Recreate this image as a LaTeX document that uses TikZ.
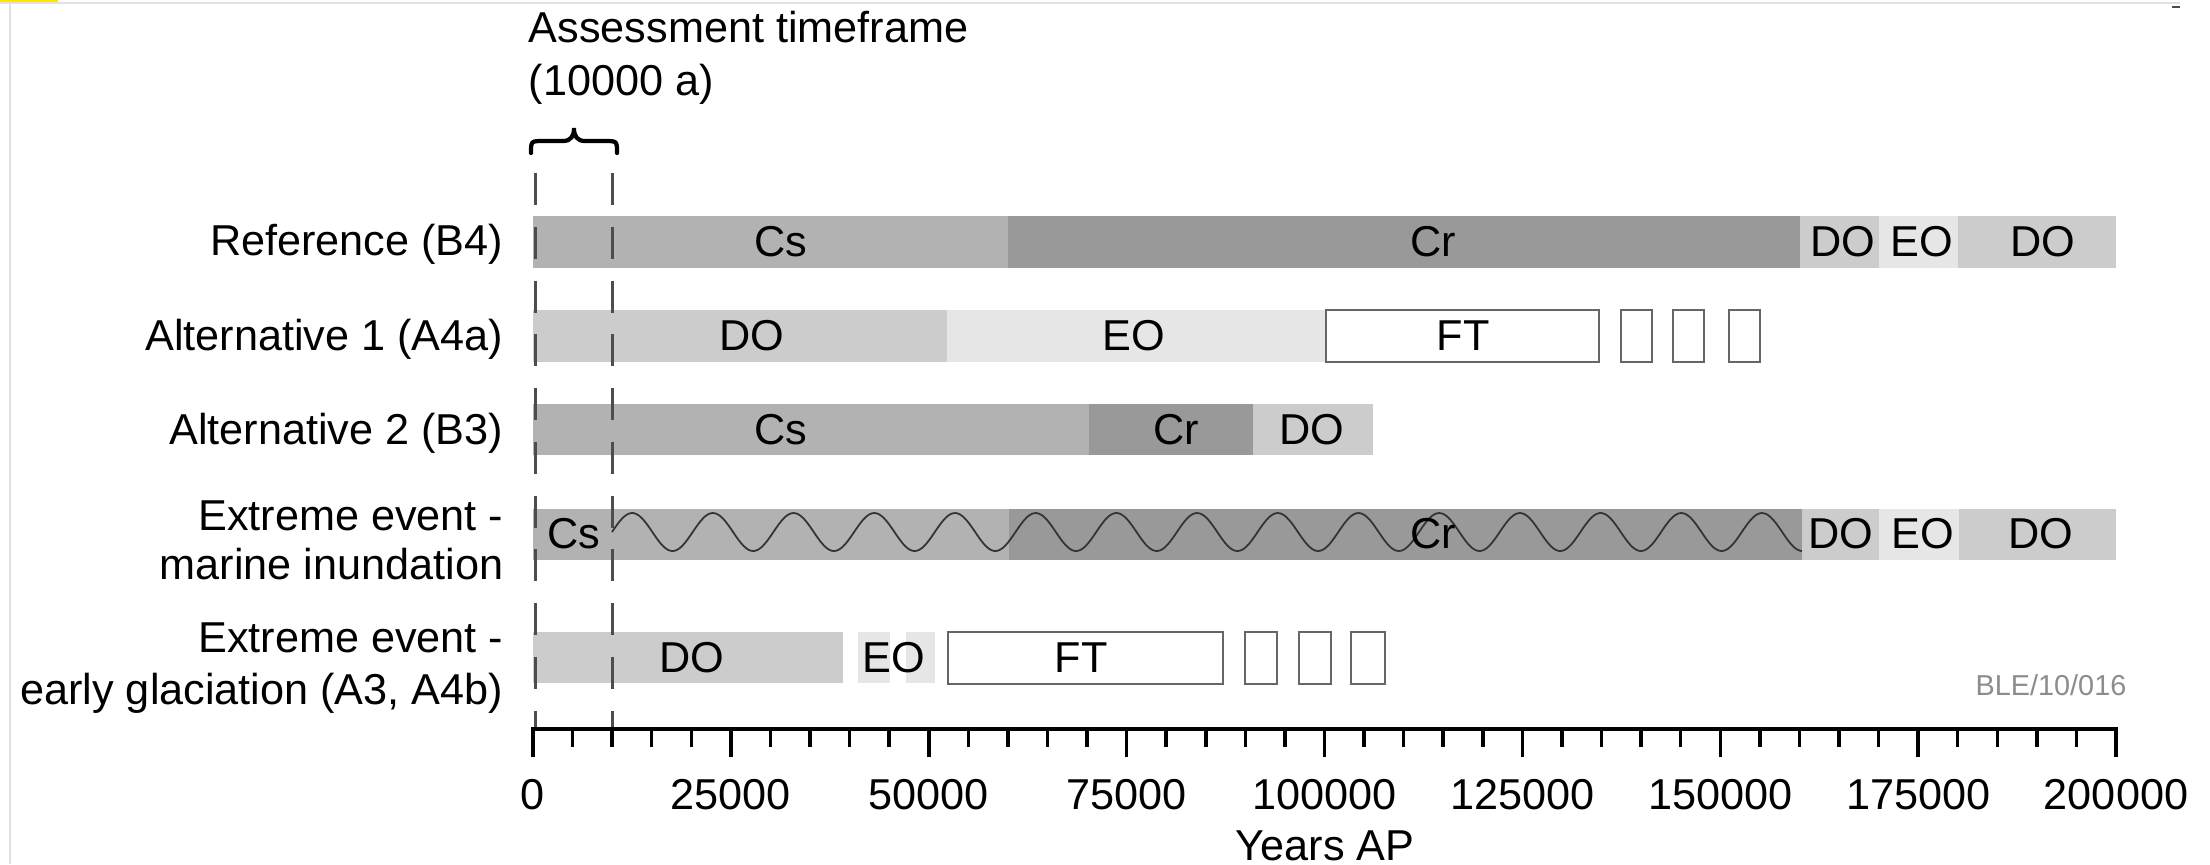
\documentclass[tikz,border=0pt]{standalone}
\usepackage{fontspec}
\setmainfont{Liberation Sans}
\definecolor{csc}{HTML}{B2B2B2}
\definecolor{crc}{HTML}{999999}
\definecolor{doc}{HTML}{CCCCCC}
\definecolor{eoc}{HTML}{E6E6E6}
\definecolor{dashc}{HTML}{4D4D4D}
\definecolor{framec}{HTML}{E0E0E0}
\definecolor{boxc}{HTML}{666666}
\definecolor{codec}{HTML}{8C8C8C}
\definecolor{markyellow}{HTML}{FFE600}
\begin{document}
\begin{tikzpicture}[x=0.1mm,y=-0.1mm,
  txt/.style={font=\fontsize{12.3}{15}\selectfont, inner sep=0pt},
  rowlab/.style={txt, anchor=base east},
  seglab/.style={txt, anchor=base},
  ticklab/.style={txt, anchor=base},
  ftbox/.style={draw=boxc, fill=white, line width=0.6pt},
  vdash/.style={draw=dashc, line width=0.85pt, dash pattern=on 9.1pt off 6.2pt},
  axisline/.style={line width=1.15pt, line cap=rect},
  tickline/.style={line width=1pt},
  wave/.style={draw=black!80, line width=0.5pt},
  bracestyle/.style={line width=1.2pt, line cap=round},
]
\useasboundingbox (0,0) rectangle (2210,864);
% screenshot frame
\fill[markyellow] (0,0) rectangle (58,3);
\draw[framec, line width=0.6pt] (0,3) -- (2180,3);
\draw[framec, line width=0.6pt] (10,3) -- (10,864);
\draw[black!70, line width=0.5pt] (2172,7) -- (2180,7);

% row 1: Reference (B4)
\fill[csc] (533,216) rectangle (1008,268);
\fill[crc] (1008,216) rectangle (1800,268);
\fill[doc] (1800,216) rectangle (1879,268);
\fill[eoc] (1879,216) rectangle (1958,268);
\fill[doc] (1958,216) rectangle (2116,268);

% row 2: Alternative 1 (A4a)
\fill[doc] (533,310) rectangle (947,362);
\fill[eoc] (947,310) rectangle (1326,362);
\draw[ftbox] (1326,310) rectangle (1599,362);
\draw[ftbox] (1621,310) rectangle (1652,362);
\draw[ftbox] (1673,310) rectangle (1704,362);
\draw[ftbox] (1729,310) rectangle (1760,362);

% row 3: Alternative 2 (B3)
\fill[csc] (533,404) rectangle (1089,455);
\fill[crc] (1089,404) rectangle (1253,455);
\fill[doc] (1253,404) rectangle (1373,455);

% row 4: marine inundation
\fill[csc] (533,509) rectangle (1009,560);
\fill[crc] (1009,509) rectangle (1802,560);
\fill[doc] (1802,509) rectangle (1879,560);
\fill[eoc] (1879,509) rectangle (1959,560);
\fill[doc] (1959,509) rectangle (2116,560);
\draw[wave] plot[domain=612:1802, samples=500, smooth] (\x, {532 - 19*sin((\x-612)*4.461)});

% row 5: early glaciation
\fill[doc] (533,632) rectangle (843,683);
\fill[eoc] (858,632) rectangle (890,683);
\fill[eoc] (906,632) rectangle (935,683);
\draw[ftbox] (948,632) rectangle (1223,684);
\draw[ftbox] (1245,632) rectangle (1277,684);
\draw[ftbox] (1299,632) rectangle (1331,684);
\draw[ftbox] (1351,632) rectangle (1385,684);

% segment labels
\node[seglab] (r1cs) at (781,256) {Cs};
\node[seglab] (r1cr) at (1433,256) {Cr};
\node[seglab] (r1do) at (1843,256) {DO};
\node[seglab] (r1eo) at (1922,256) {EO};
\node[seglab] (r1do2) at (2043,256) {DO};
\node[seglab] (r2do) at (752,350) {DO};
\node[seglab] (r2eo) at (1134,350) {EO};
\node[seglab] (r2ft) at (1463,350) {FT};
\node[seglab] (r3cs) at (781,444) {Cs};
\node[seglab] (r3cr) at (1176,444) {Cr};
\node[seglab] (r3do) at (1312,444) {DO};
\node[seglab] (r4cs) at (574,548) {Cs};
\node[seglab] (r4cr) at (1433,548) {Cr};
\node[seglab] (r4do) at (1841,548) {DO};
\node[seglab] (r4eo) at (1923,548) {EO};
\node[seglab] (r4do2) at (2041,548) {DO};
\node[seglab] (r5do) at (692,672) {DO};
\node[seglab] (r5eo) at (894,672) {EO};
\node[seglab] (r5ft) at (1081,672) {FT};

% row labels
\node[rowlab] (lab1) at (504,255) {Reference (B4)};
\node[rowlab] (lab2) at (504,350) {Alternative 1 (A4a)};
\node[rowlab] (lab3) at (504,444) {Alternative 2 (B3)};
\node[rowlab] (lab4a) at (504,530) {Extreme event -};
\node[rowlab] (lab4b) at (504,579) {marine inundation};
\node[rowlab] (lab5a) at (504,652) {Extreme event -};
\node[rowlab] (lab5b) at (504,704) {early glaciation (A3, A4b)};

% assessment timeframe
\node[txt, anchor=base west] (assess1) at (528,42) {Assessment timeframe};
\node[txt, anchor=base west] (assess2) at (528,95) {(10000 a)};
\draw[bracestyle] (531,153) .. controls (531,141) .. (543,141) -- (563,141)
  .. controls (571,141) and (574,136) .. (574,128)
  .. controls (574,136) and (577,141) .. (585,141) -- (605,141)
  .. controls (617,141) .. (617,153);

% dashed lines
\coordinate (d0t) at (535,173);
\coordinate (d0b) at (535,729);
\coordinate (d1t) at (612,173);
\coordinate (d1b) at (612,729);
\draw[vdash] (d0t) -- (d0b);
\draw[vdash] (d1t) -- (d1b);

% axis
\coordinate (ax0) at (533,729);
\coordinate (ax1) at (2116,729);
\draw[axisline] (ax0) -- (ax1);
\foreach \k in {0,5,...,200}{
  \pgfmathsetmacro\tl{mod(\k,25)==0 ? 28 : 18}
  \draw[tickline] ({533+7.915*\k},729) -- ++(0,\tl);
}
\foreach \k/\lab in {0/0,25/25000,50/50000,75/75000,100/100000,125/125000,150/150000,175/175000,200/200000}{
  \node[ticklab] (tick\k) at ({533+7.915*\k},809) {\lab};
}
\node[txt, anchor=base] (xlabel) at (1325,860) {Years AP};

% code
\node[font=\fontsize{8.2}{10}\selectfont, text=codec, inner sep=0pt, anchor=base east] (code) at (2127,695) {BLE/10/016};
\end{tikzpicture}
\end{document}
